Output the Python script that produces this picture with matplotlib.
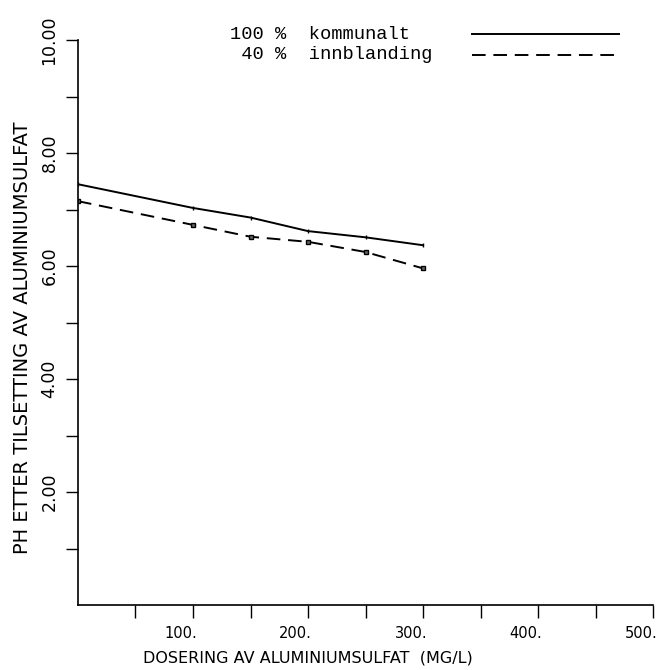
import numpy as np
import matplotlib.pyplot as plt
from matplotlib.transforms import ScaledTranslation

# dosering (mg/l) og pH etter tilsetting
dose = [0, 100, 150, 200, 250, 300]
ph_kommunalt = [7.45, 7.03, 6.86, 6.62, 6.51, 6.37]
ph_innblanding = [7.15, 6.73, 6.52, 6.43, 6.25, 5.96]

xticks = np.arange(50, 501, 50)
xlabels = ['' if v % 100 else '%d.' % v for v in xticks]
yticks = np.arange(1, 11, 1)
ylabels = ['%.2f' % v if v % 2 == 0 else '' for v in yticks]

fig = plt.figure(figsize=(6.58, 6.70), dpi=100)
ax = fig.add_axes([0.1185, 0.097, 0.874, 0.843])

ax.plot(dose, ph_kommunalt, 'k-', linewidth=1.4, marker='|', markersize=3)
ax.plot(dose, ph_innblanding, 'k--', linewidth=1.4, dashes=(7, 4),
        marker='s', markersize=3, markerfacecolor='0.4')

ax.set_xlim(0, 500)
ax.set_ylim(0, 10)
ax.set_xticks(xticks)
ax.set_xticklabels(xlabels, fontsize=10.5, ha='right')
ax.set_yticks(yticks)
ax.set_yticklabels(ylabels, fontsize=12.5, rotation=90, va='center')
ax.tick_params(direction='out', length=9, width=1)
ax.tick_params(axis='x', pad=6)
ax.tick_params(axis='y', pad=5)
# tallene på x-aksen slutter ved streken
for lab in ax.get_xticklabels():
    lab.set_transform(lab.get_transform() + ScaledTranslation(3 / 72, 0, fig.dpi_scale_trans))
ax.spines['top'].set_visible(False)
ax.spines['right'].set_visible(False)
ax.spines['left'].set_linewidth(1.2)
ax.spines['bottom'].set_linewidth(1.2)

ax.set_xlabel('DOSERING AV ALUMINIUMSULFAT  (MG/L)', fontsize=11.5, va='center')
ax.xaxis.set_label_coords(0.40, -0.094)
ax.set_ylabel('PH ETTER TILSETTING AV ALUMINIUMSULFAT', fontsize=14, va='center')
ax.yaxis.set_label_coords(-0.097, 0.473)

# forklaring
mono = dict(family='Liberation Mono', fontsize=13.5, va='center', ha='left')
fig.text(0.350, 0.949, '100 %  kommunalt', **mono)
fig.text(0.350, 0.918, ' 40 %  innblanding', **mono)
fig.add_artist(plt.Line2D([0.717, 0.940], [0.949, 0.949], color='k', linewidth=1.4))
fig.add_artist(plt.Line2D([0.717, 0.940], [0.918, 0.918], color='k', linewidth=1.4,
                          linestyle='--', dashes=(7, 4)))

plt.savefig('out.png', dpi=100)
